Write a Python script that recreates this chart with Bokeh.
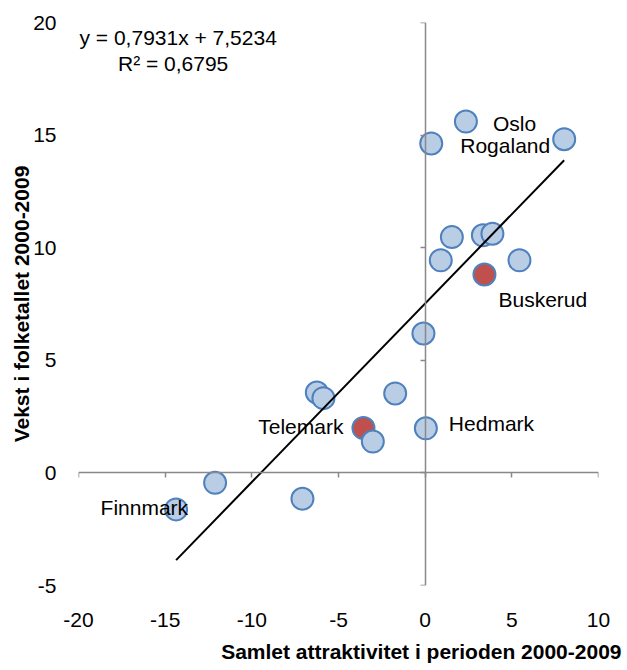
from bokeh.plotting import figure
from bokeh.models import (ColumnDataSource, LinearAxis, FixedTicker, Range1d,
                          Title, Label)
from bokeh.embed import file_html
from bokeh.resources import INLINE
from bokeh.core.properties import value

# ---- data ----
attraktivitet = [2.35, 0.35, 8.02, 1.54, 3.33, 3.88, 0.90, 5.44, 3.42, -0.10,
                 -6.25, -5.87, -1.73, -3.56, -3.02, 0.04, -12.12, -7.08, -14.37]
vekst = [15.60, 14.63, 14.82, 10.47, 10.55, 10.62, 9.44, 9.44, 8.81, 6.19,
         3.57, 3.32, 3.53, 1.99, 1.39, 1.98, -0.44, -1.15, -1.62]
navn = ["Oslo", "", "Rogaland", "", "", "", "", "", "Buskerud", "",
        "", "", "", "Telemark", "", "Hedmark", "", "", "Finnmark"]
uthevet = ["Buskerud", "Telemark"]

x_ticks = [-20, -15, -10, -5, 0, 5, 10]
y_ticks = [-5, 0, 5, 10, 15, 20]

slope = 0.7931
intercept = 7.5234
r2 = 0.6795

x_title = "Samlet attraktivitet i perioden 2000-2009"
y_title = "Vekst i folketallet 2000-2009"

# ---- styling ----
FONT = "Liberation Sans"
FS = "21px"
BLUE_FILL = "#B9CDE5"
BLUE_LINE = "#4F81BD"
RED_FILL = "#C0504D"
AXIS_GRAY = "#898989"

# label placement (screen-pixel offsets, alignment)
label_style = {
    "Oslo": (27, 2, "left"),
    "Rogaland": (-14, 6, "right"),
    "Buskerud": (14, 25, "left"),
    "Telemark": (-20, -2, "right"),
    "Hedmark": (23, -5, "left"),
    "Finnmark": (12, -2, "right"),
}

fills = [RED_FILL if n in uthevet else BLUE_FILL for n in navn]
src = ColumnDataSource(dict(x=attraktivitet, y=vekst, fill=fills))

lab_x, lab_y, lab_t, lab_dx, lab_dy, lab_al = [], [], [], [], [], []
for xv, yv, n in zip(attraktivitet, vekst, navn):
    if n:
        dx, dy, al = label_style[n]
        lab_x.append(xv); lab_y.append(yv); lab_t.append(n)
        lab_dx.append(dx); lab_dy.append(dy); lab_al.append(al)
lab_src = ColumnDataSource(dict(x=lab_x, y=lab_y, t=lab_t, dx=lab_dx,
                                dy=lab_dy, al=lab_al))

p = figure(width=627, height=670, output_backend="svg", toolbar_location=None,
           x_range=Range1d(x_ticks[0], x_ticks[-1]),
           y_range=Range1d(y_ticks[0], y_ticks[-1]),
           x_axis_type=None, y_axis_type=None,
           min_border_left=78, min_border_right=29,
           min_border_top=22, min_border_bottom=83)
p.outline_line_color = None
p.background_fill_color = "white"
p.border_fill_color = "white"

def label_axis(ticks, standoff):
    return LinearAxis(ticker=FixedTicker(ticks=ticks),
                      axis_line_color=None,
                      major_tick_line_color=None, minor_tick_line_color=None,
                      major_tick_in=0, major_tick_out=0,
                      major_label_standoff=standoff,
                      major_label_overrides={t: str(t) for t in ticks},
                      major_label_text_font=FONT,
                      major_label_text_font_size=FS,
                      major_label_text_color="black")

def cross_axis(ticks):
    # lives in the opposite side panel; "in" ticks then point left / down
    return LinearAxis(ticker=FixedTicker(ticks=ticks), fixed_location=0,
                      axis_line_color=AXIS_GRAY, axis_line_width=1.5,
                      major_tick_line_color=AXIS_GRAY, major_tick_line_width=1.5,
                      major_tick_in=5, major_tick_out=0,
                      minor_tick_line_color=None,
                      major_label_standoff=0,
                      major_label_text_font_size="0px",
                      major_label_text_alpha=0)

p.add_layout(label_axis(x_ticks, 27), "below")
p.add_layout(label_axis(y_ticks, 22), "left")
p.add_layout(cross_axis(x_ticks), "above")
p.add_layout(cross_axis(y_ticks), "right")

p.add_layout(Title(text=x_title, align="right", offset=-23,
                   text_font=FONT, text_font_size=FS, text_color="black",
                   text_font_style="bold", standoff=16), "below")
p.add_layout(Title(text=y_title, align="center", offset=-9,
                   text_font=FONT, text_font_size=FS, text_color="black",
                   text_font_style="bold", standoff=-5), "left")

# points
p.scatter("x", "y", source=src, size=22, fill_color="fill",
          line_color=BLUE_LINE, line_width=2)

# trendline from the fitted equation over the data's x extent
x_lo, x_hi = min(attraktivitet), max(attraktivitet)
p.line([x_lo, x_hi], [slope * x_lo + intercept, slope * x_hi + intercept],
       line_color="black", line_width=2)

# data labels
p.text("x", "y", text="t", source=lab_src, x_offset="dx", y_offset="dy",
       text_align="al", text_baseline="middle",
       text_font=value(FONT), text_font_size=FS, text_color="black")

# equation text
eq1 = "y = " + f"{slope:.4f}".replace(".", ",") + "x + " + f"{intercept:.4f}".replace(".", ",")
eq2 = "R² = " + f"{r2:.4f}".replace(".", ",")
p.add_layout(Label(x=-14.25, y=19.33, text=eq1, text_align="center",
                   text_baseline="middle", text_font=FONT,
                   text_font_size=FS, text_color="black"))
p.add_layout(Label(x=-14.54, y=18.17, text=eq2, text_align="center",
                   text_baseline="middle", text_font=FONT,
                   text_font_size=FS, text_color="black"))

open("out.html", "w").write(file_html(p, INLINE))
